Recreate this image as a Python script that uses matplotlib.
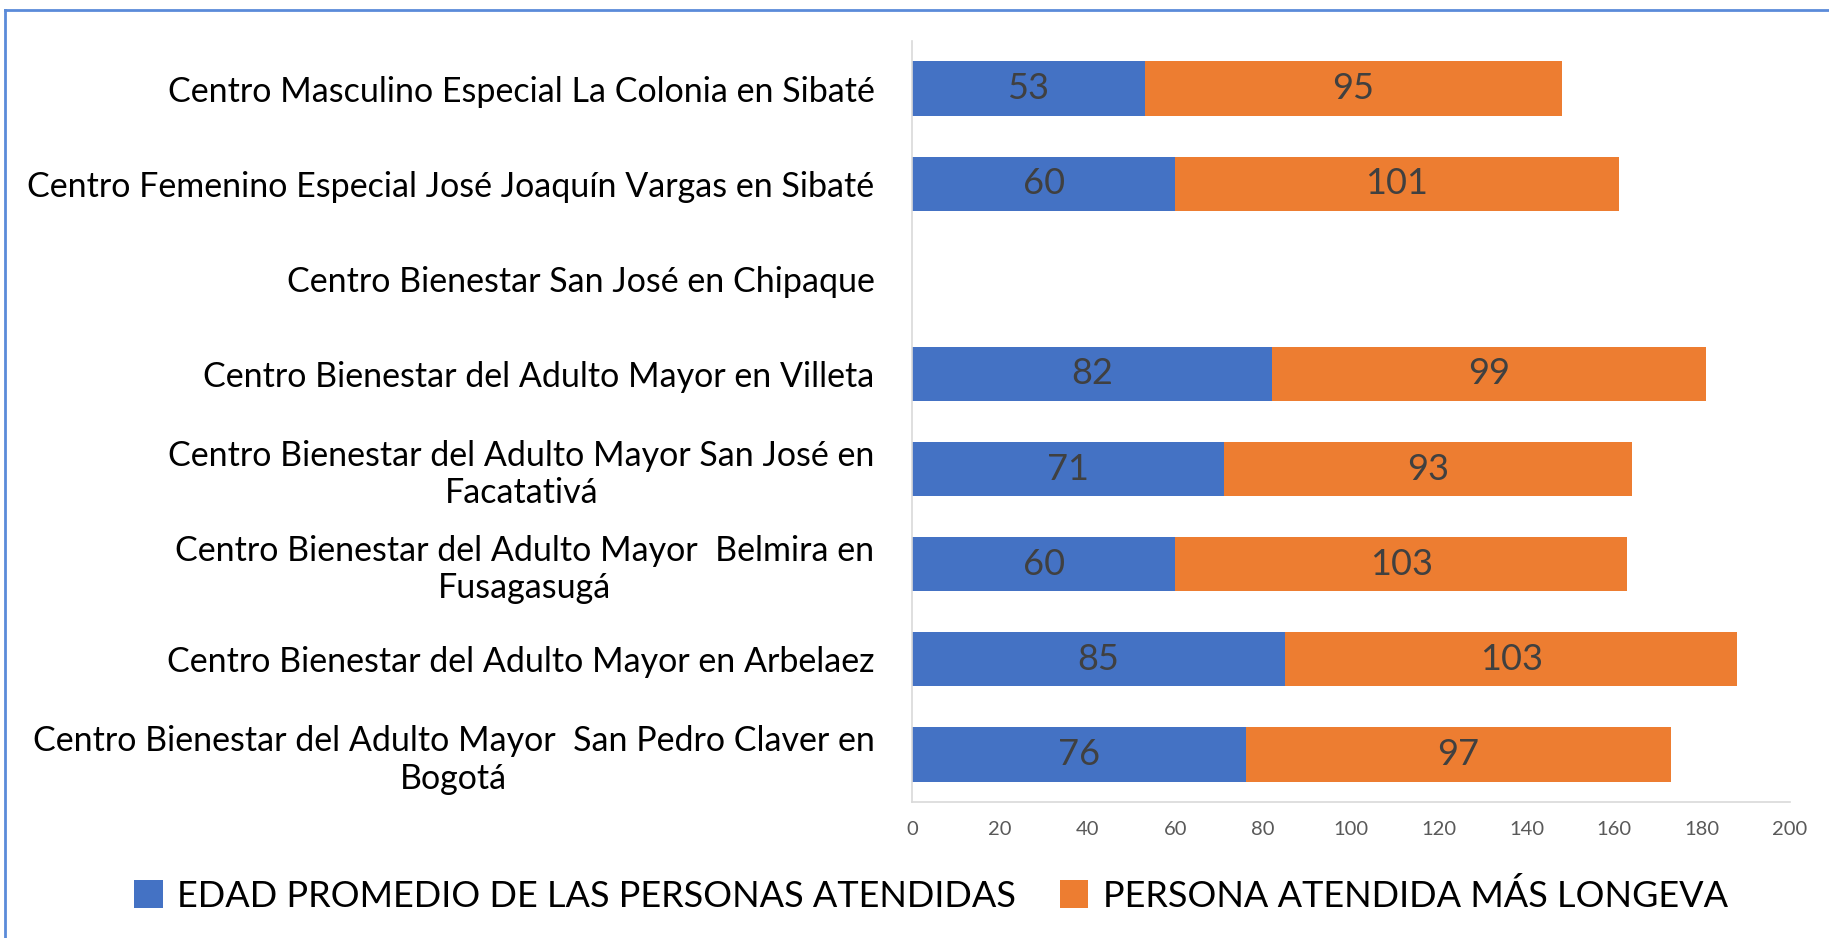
import matplotlib.pyplot as plt
from matplotlib.lines import Line2D
import numpy as np

plt.rcParams['font.family'] = ['Lato', 'DejaVu Sans']

# categories listed top to bottom as in the chart
centros = [
    'Centro Masculino Especial La Colonia en Sibaté',
    'Centro Femenino Especial José Joaquín Vargas en Sibaté',
    'Centro Bienestar San José en Chipaque',
    'Centro Bienestar del Adulto Mayor en Villeta',
    'Centro Bienestar del Adulto Mayor San José en\nFacatativá',
    'Centro Bienestar del Adulto Mayor  Belmira en\nFusagasugá',
    'Centro Bienestar del Adulto Mayor en Arbelaez',
    'Centro Bienestar del Adulto Mayor  San Pedro Claver en\nBogotá',
]
edad_promedio = [53, 60, 0, 82, 71, 60, 85, 76]
mas_longeva = [95, 101, 0, 99, 93, 103, 103, 97]
x_ticks = [0, 20, 40, 60, 80, 100, 120, 140, 160, 180, 200]

azul = '#4472C4'
naranja = '#ED7D31'

fig = plt.figure(figsize=(18.29, 9.38), dpi=100)
ax = fig.add_axes([0.4986, 0.145, 0.48, 0.8113])

# first category at the top
y = np.arange(len(centros))[::-1]
b1 = ax.barh(y, edad_promedio, height=0.57, color=azul,
             label='EDAD PROMEDIO DE LAS PERSONAS ATENDIDAS')
b2 = ax.barh(y, mas_longeva, left=edad_promedio, height=0.57, color=naranja,
             label='PERSONA ATENDIDA MÁS LONGEVA')

# etiquetas de datos (no se ponen en la barra vacia)
for bars, vals in ((b1, edad_promedio), (b2, mas_longeva)):
    labels = [str(v) if v else '' for v in vals]
    ax.bar_label(bars, labels=labels, label_type='center', fontsize=26, color='#404040')

ax.set_xlim(0, 200)
ax.set_ylim(-0.5, len(centros) - 0.5)
ax.set_xticks(x_ticks)
ax.set_yticks(y)
ax.set_yticklabels(centros, fontsize=24.5, color='black', multialignment='center')
ax.tick_params(axis='x', length=0, labelsize=14.5, labelcolor='#595959', pad=14)
ax.tick_params(axis='y', length=0, pad=27)

for s in ('top', 'right'):
    ax.spines[s].set_visible(False)
ax.spines['left'].set_color('#d9d9d9')
ax.spines['bottom'].set_color('#d9d9d9')
ax.spines['left'].set_linewidth(1.2)
ax.spines['bottom'].set_linewidth(1.2)

fig.legend(handles=[b1, b2], loc='center', bbox_to_anchor=(0.509, 0.045), ncol=2,
           frameon=False, fontsize=26, handlelength=0.8, handleheight=0.8,
           handletextpad=0.4, columnspacing=1.2)

# marco azul (solo se ve arriba y a la izquierda)
fig.add_artist(Line2D([5 / 1829, 1], [1 - 10 / 938, 1 - 10 / 938], color='#5B8BD9', lw=2))
fig.add_artist(Line2D([5 / 1829, 5 / 1829], [0, 1 - 10 / 938], color='#5B8BD9', lw=2))

fig.savefig('out.png', dpi=100)
